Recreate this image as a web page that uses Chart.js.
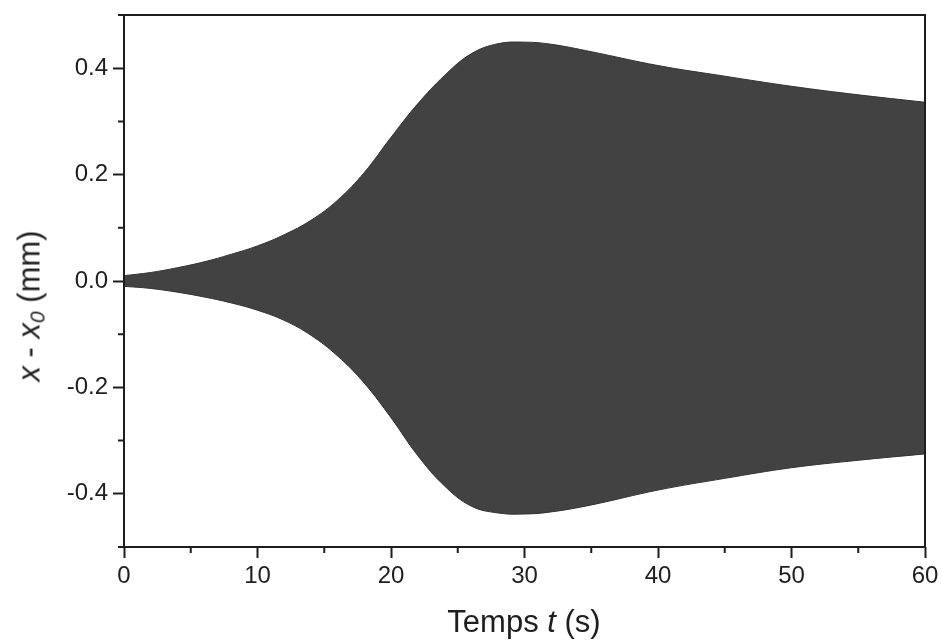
<!DOCTYPE html>
<html>
<head>
<meta charset="utf-8">
<script src="https://cdn.jsdelivr.net/npm/chart.js@4.4.1/dist/chart.umd.min.js"></script>
<style>
    html, body { margin: 0; padding: 0; background: #fff; }
    #wrap { position: relative; width: 942px; height: 640px; font-family: "Liberation Sans", Arial, sans-serif; color: #1e1e1e; }
    #chart { position: absolute; left: 0; top: 0; }
    .axis-title { position: absolute; white-space: nowrap; font-size: 31px; line-height: 31px; }
    #xTitle { left: 524px; top: 606px; transform: translateX(-50%); }
    #yTitle { left: 29px; top: 306px; transform: translate(-50%, -50%) rotate(-90deg); }
    #yTitle sub { font-size: 21px; vertical-align: -5px; line-height: 0; }
</style>
</head>
<body>
<div id="wrap">
    <canvas id="chart" width="942" height="640"></canvas>
    <div class="axis-title" id="xTitle">Temps <i>t</i> (s)</div>
    <div class="axis-title" id="yTitle"><i>x</i> - <i>x</i><sub><i>0</i></sub> (mm)</div>
</div>
<script>
// Time samples (s) and envelope of the oscillation (mm)
const timeS = [0, 2, 4, 6, 8, 10, 12, 14, 16, 18, 20, 22, 24, 26, 28, 30, 32, 35, 40, 45, 50, 55, 60];
const upperMm = [0.010, 0.016, 0.025, 0.036, 0.050, 0.066, 0.087, 0.114, 0.152, 0.204, 0.270, 0.333, 0.386, 0.427, 0.446, 0.449, 0.445, 0.431, 0.405, 0.385, 0.366, 0.350, 0.336];
const lowerMm = [-0.010, -0.014, -0.021, -0.030, -0.041, -0.055, -0.074, -0.102, -0.141, -0.192, -0.257, -0.328, -0.385, -0.423, -0.436, -0.438, -0.434, -0.421, -0.393, -0.371, -0.351, -0.337, -0.325];

// Axis ticks
const xMajorTicks = [0, 10, 20, 30, 40, 50, 60];
const xMinorTicks = [5, 15, 25, 35, 45, 55];
const yMajorTicks = [-0.4, -0.2, 0.0, 0.2, 0.4];
const yMinorTicks = [-0.5, -0.3, -0.1, 0.1, 0.3, 0.5];

const AXIS_COLOR = '#1e1e1e';
const FILL_COLOR = '#424242';

/**
 * Frame around the plot area plus the short minor ticks
 */
const framePlugin = {
    id: 'frame',
    afterDraw(chart) {
        const { ctx, chartArea, scales } = chart;
        ctx.save();
        ctx.strokeStyle = AXIS_COLOR;
        ctx.lineWidth = 2;
        ctx.strokeRect(chartArea.left, chartArea.top,
            chartArea.right - chartArea.left, chartArea.bottom - chartArea.top);

        ctx.beginPath();
        xMinorTicks.forEach(v => {
            const px = scales.x.getPixelForValue(v);
            ctx.moveTo(px, chartArea.bottom);
            ctx.lineTo(px, chartArea.bottom + 6);
        });
        yMinorTicks.forEach(v => {
            const py = scales.y.getPixelForValue(v);
            ctx.moveTo(chartArea.left, py);
            ctx.lineTo(chartArea.left - 6, py);
        });
        ctx.stroke();
        ctx.restore();
    }
};

const toPoints = (values) => timeS.map((t, i) => ({ x: t, y: values[i] }));

// Keep the plot box fixed: no extra room for tick labels overhanging the edges
const noOverhang = (scale) => {
    scale.paddingTop = 0;
    scale.paddingBottom = 0;
    scale.paddingLeft = 0;
    scale.paddingRight = 0;
};

new Chart(document.getElementById('chart').getContext('2d'), {
    type: 'line',
    data: {
        datasets: [
            {
                label: 'lower',
                data: toPoints(lowerMm),
                borderColor: '#333333',
                borderWidth: 1,
                pointRadius: 0,
                tension: 0.4,
                fill: false
            },
            {
                label: 'upper',
                data: toPoints(upperMm),
                borderColor: '#333333',
                borderWidth: 1,
                pointRadius: 0,
                tension: 0.4,
                backgroundColor: FILL_COLOR,
                fill: '-1'
            }
        ]
    },
    options: {
        responsive: false,
        animation: false,
        layout: {
            padding: { top: 15, right: 17, left: 0, bottom: 0 }
        },
        plugins: {
            legend: { display: false },
            tooltip: { enabled: false }
        },
        scales: {
            x: {
                type: 'linear',
                min: 0,
                max: 60,
                afterBuildTicks: (scale) => { scale.ticks = xMajorTicks.map(v => ({ value: v })); },
                afterFit: (scale) => { scale.height = 93; noOverhang(scale); },
                border: { display: false },
                grid: {
                    drawOnChartArea: false,
                    drawTicks: true,
                    tickLength: 11,
                    tickWidth: 2,
                    tickColor: AXIS_COLOR
                },
                ticks: {
                    color: AXIS_COLOR,
                    padding: 4,
                    maxRotation: 0,
                    font: { family: '"Liberation Sans", Arial, sans-serif', size: 24 },
                    callback: (value) => String(value)
                }
            },
            y: {
                type: 'linear',
                min: -0.5,
                max: 0.5,
                afterBuildTicks: (scale) => { scale.ticks = yMajorTicks.map(v => ({ value: v })); },
                afterFit: (scale) => { scale.width = 124; noOverhang(scale); },
                border: { display: false },
                grid: {
                    drawOnChartArea: false,
                    drawTicks: true,
                    tickLength: 11,
                    tickWidth: 2,
                    tickColor: AXIS_COLOR
                },
                ticks: {
                    color: AXIS_COLOR,
                    padding: 5,
                    font: { family: '"Liberation Sans", Arial, sans-serif', size: 24 },
                    callback: (value) => (Math.round(value * 10) / 10).toFixed(1)
                }
            }
        }
    },
    plugins: [framePlugin]
});
</script>
</body>
</html>
